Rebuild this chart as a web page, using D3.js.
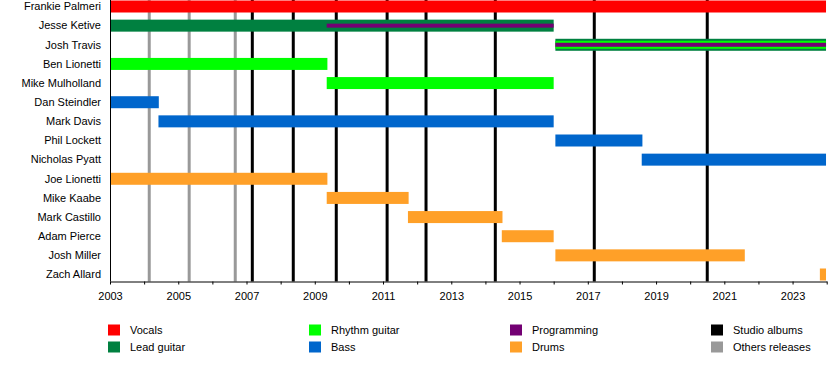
<!DOCTYPE html>
<html lang="en">
<head>
<meta charset="UTF-8">
<title>Band timeline</title>
<script src="https://cdn.jsdelivr.net/npm/d3@7"></script>
<style>
    body { margin: 0; background: #fff; }
    text { font-family: "Liberation Sans", Arial, sans-serif; font-size: 11px; fill: #000; }
    .axis path, .axis line { stroke: #000; }
</style>
</head>
<body>
<div id="chart"></div>
<script>
    /* global d3 */

    var members = ["Frankie Palmeri", "Jesse Ketive", "Josh Travis", "Ben Lionetti", "Mike Mulholland",
        "Dan Steindler", "Mark Davis", "Phil Lockett", "Nicholas Pyatt", "Joe Lionetti", "Mike Kaabe",
        "Mark Castillo", "Adam Pierce", "Josh Miller", "Zach Allard"];

    var roles = ["Vocals", "Lead guitar", "Rhythm guitar", "Bass", "Programming", "Drums"];
    var roleColors = ["#ff0000", "#008040", "#00ff00", "#0066cc", "#730073", "#ffa028"];

    // [member, role, start, end]
    var stints = [
        ["Frankie Palmeri", "Vocals", 2003, 2023.98],
        ["Jesse Ketive", "Lead guitar", 2003, 2016.0],
        ["Jesse Ketive", "Programming", 2009.35, 2016.0],
        ["Josh Travis", "Lead guitar", 2016.05, 2023.98],
        ["Josh Travis", "Rhythm guitar", 2016.05, 2023.98],
        ["Josh Travis", "Programming", 2016.05, 2023.98],
        ["Ben Lionetti", "Rhythm guitar", 2003, 2009.37],
        ["Mike Mulholland", "Rhythm guitar", 2009.35, 2016.0],
        ["Dan Steindler", "Bass", 2003, 2004.43],
        ["Mark Davis", "Bass", 2004.42, 2016.0],
        ["Phil Lockett", "Bass", 2016.05, 2018.6],
        ["Nicholas Pyatt", "Bass", 2018.58, 2023.98],
        ["Joe Lionetti", "Drums", 2003, 2009.37],
        ["Mike Kaabe", "Drums", 2009.35, 2011.75],
        ["Mark Castillo", "Drums", 2011.73, 2014.5],
        ["Adam Pierce", "Drums", 2014.48, 2016.0],
        ["Josh Miller", "Drums", 2016.05, 2021.6],
        ["Zach Allard", "Drums", 2023.8, 2023.98]
    ];

    var studioAlbums = [2007.17, 2008.37, 2009.63, 2011.12, 2012.26, 2014.29, 2017.19, 2020.5];
    var otherReleases = [2004.15, 2005.32, 2006.67];

    var legendItems = [
        ["Vocals", "#ff0000"], ["Lead guitar", "#008040"],
        ["Rhythm guitar", "#00ff00"], ["Bass", "#0066cc"],
        ["Programming", "#730073"], ["Drums", "#ffa028"],
        ["Studio albums", "#000000"], ["Others releases", "#999999"]
    ];

    var width = 840, height = 370;
    var left = 110, right = 826.7, axisY = 281.5;

    var svg = d3.select("#chart").append("svg")
        .attr("width", width)
        .attr("height", height);

    var x = d3.scaleLinear().domain([2003, 2024]).range([left, right]);
    var y = d3.scalePoint().domain(members).range([6.5, 274.5]);
    var color = d3.scaleOrdinal().domain(roles).range(roleColors);

    // release lines sit behind the bars
    svg.append("g").selectAll("line.other")
        .data(otherReleases)
        .enter().append("line")
        .attr("x1", function(d) { return x(d); })
        .attr("x2", function(d) { return x(d); })
        .attr("y1", 0).attr("y2", axisY)
        .attr("stroke", "#999999")
        .attr("stroke-width", 3);

    svg.append("g").selectAll("line.studio")
        .data(studioAlbums)
        .enter().append("line")
        .attr("x1", function(d) { return x(d); })
        .attr("x2", function(d) { return x(d); })
        .attr("y1", 0).attr("y2", axisY)
        .attr("stroke", "#000")
        .attr("stroke-width", 3);

    // stack thinner bars on top when a member has several roles
    var layerCount = {};
    var bars = stints.map(function(s) {
        var n = layerCount[s[0]] || 0;
        layerCount[s[0]] = n + 1;
        var h = s[1] === "Programming" ? 4 : (n > 0 ? 8 : 12);
        return { member: s[0], role: s[1], start: s[2], end: s[3], h: h };
    });

    svg.append("g").selectAll("rect")
        .data(bars)
        .enter().append("rect")
        .attr("x", function(d) { return x(d.start); })
        .attr("width", function(d) { return x(d.end) - x(d.start); })
        .attr("y", function(d) { return y(d.member) - d.h / 2; })
        .attr("height", function(d) { return d.h; })
        .attr("fill", function(d) { return color(d.role); });

    // names
    svg.append("g").selectAll("text")
        .data(members)
        .enter().append("text")
        .attr("x", 101)
        .attr("y", function(d) { return y(d); })
        .attr("dy", "0.35em")
        .attr("text-anchor", "end")
        .text(function(d) { return d; });

    // axes
    svg.append("line")
        .attr("x1", left + 0.5).attr("x2", left + 0.5)
        .attr("y1", 0).attr("y2", axisY)
        .attr("stroke", "#000");

    var years = d3.range(2003, 2025);
    svg.append("g")
        .attr("class", "axis")
        .attr("transform", "translate(0," + axisY + ")")
        .call(d3.axisBottom(x)
            .tickValues(years)
            .tickSize(3)
            .tickSizeOuter(0)
            .tickPadding(8)
            .tickFormat(function(d) { return (d % 2 === 1 && d < 2024) ? d : ""; }))
        .call(function(g) {
            g.selectAll("text").style("font-family", "Liberation Sans, Arial, sans-serif").style("font-size", "11px");
        });

    // legend
    var legend = svg.append("g").selectAll("g")
        .data(legendItems)
        .enter().append("g")
        .attr("transform", function(d, i) {
            var col = Math.floor(i / 2), row = i % 2;
            return "translate(" + (108 + col * 201) + "," + (324.5 + row * 17) + ")";
        });

    legend.append("rect")
        .attr("width", 12).attr("height", 11)
        .attr("fill", function(d) { return d[1]; });

    legend.append("text")
        .attr("x", 22)
        .attr("y", 6)
        .attr("dy", "0.35em")
        .text(function(d) { return d[0]; });
</script>
</body>
</html>
